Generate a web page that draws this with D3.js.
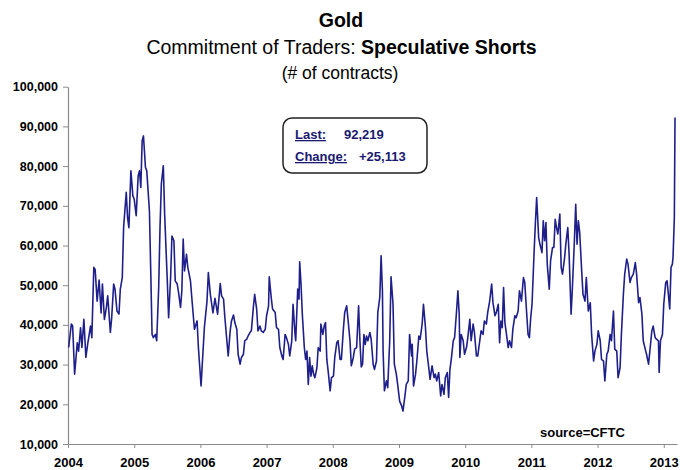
<!DOCTYPE html>
<meta charset="utf-8">
<script src="https://d3js.org/d3.v7.min.js"></script>
<style>
  body { margin: 0; background: #fff; }
  text { font-family: "Liberation Sans", Arial, sans-serif; }
</style>
<div id="my_dataviz"></div>
<script>

// weekly-ish readings, decimal year
const years = [
  2004.01,2004.05,2004.07,2004.10,2004.14,2004.16,2004.19,2004.21,2004.24,2004.27,2004.30,2004.34,2004.36,2004.39,2004.41,2004.44,2004.47,2004.50,2004.52,2004.55,
  2004.58,2004.60,2004.64,2004.66,2004.69,2004.71,2004.74,2004.77,2004.79,2004.82,2004.84,2004.88,2004.90,2004.92,2004.95,2004.98,2005.00,2005.03,2005.06,2005.08,
  2005.10,2005.12,2005.14,2005.17,2005.19,2005.23,2005.25,2005.27,2005.29,2005.32,2005.34,2005.37,2005.39,2005.41,2005.44,2005.46,2005.50,2005.52,2005.55,2005.57,
  2005.60,2005.62,2005.65,2005.67,2005.70,2005.72,2005.74,2005.76,2005.79,2005.81,2005.85,2005.87,2005.91,2005.95,2005.97,2006.01,2006.02,2006.06,2006.10,2006.12,
  2006.15,2006.19,2006.22,2006.26,2006.30,2006.32,2006.35,2006.37,2006.40,2006.42,2006.45,2006.47,2006.50,2006.52,2006.55,2006.57,2006.60,2006.62,2006.65,2006.67,
  2006.70,2006.72,2006.75,2006.77,2006.80,2006.82,2006.85,2006.87,2006.90,2006.92,2006.95,2006.98,2007.00,2007.03,2007.04,2007.07,2007.09,2007.13,2007.15,2007.18,
  2007.20,2007.23,2007.25,2007.28,2007.30,2007.33,2007.35,2007.38,2007.40,2007.43,2007.44,2007.47,2007.49,2007.50,2007.52,2007.54,2007.57,2007.59,2007.61,2007.63,
  2007.65,2007.67,2007.69,2007.71,2007.73,2007.76,2007.78,2007.81,2007.82,2007.85,2007.87,2007.89,2007.91,2007.93,2007.96,2007.98,2008.01,2008.03,2008.06,2008.08,
  2008.11,2008.13,2008.16,2008.18,2008.21,2008.23,2008.26,2008.28,2008.31,2008.33,2008.36,2008.39,2008.41,2008.43,2008.45,2008.47,2008.49,2008.51,2008.53,2008.56,
  2008.58,2008.61,2008.63,2008.66,2008.68,2008.71,2008.73,2008.75,2008.76,2008.78,2008.81,2008.83,2008.86,2008.88,2008.91,2008.93,2008.96,2008.98,2009.01,2009.04,
  2009.06,2009.09,2009.11,2009.14,2009.16,2009.19,2009.20,2009.22,2009.25,2009.27,2009.30,2009.32,2009.35,2009.37,2009.40,2009.42,2009.45,2009.47,2009.50,2009.53,
  2009.55,2009.57,2009.60,2009.63,2009.65,2009.68,2009.70,2009.73,2009.75,2009.77,2009.79,2009.82,2009.84,2009.87,2009.89,2009.91,2009.92,2009.94,2009.97,2009.99,
  2010.02,2010.04,2010.07,2010.09,2010.12,2010.14,2010.17,2010.19,2010.22,2010.24,2010.27,2010.29,2010.32,2010.34,2010.37,2010.40,2010.42,2010.45,2010.47,2010.50,
  2010.52,2010.54,2010.56,2010.58,2010.60,2010.62,2010.65,2010.67,2010.70,2010.72,2010.75,2010.77,2010.80,2010.82,2010.85,2010.88,2010.90,2010.93,2010.95,2010.97,
  2010.99,2011.01,2011.04,2011.06,2011.08,2011.11,2011.13,2011.16,2011.18,2011.20,2011.22,2011.24,2011.27,2011.29,2011.32,2011.34,2011.36,2011.38,2011.40,2011.43,
  2011.45,2011.47,2011.50,2011.52,2011.55,2011.57,2011.60,2011.62,2011.65,2011.67,2011.69,2011.71,2011.73,2011.76,2011.78,2011.81,2011.83,2011.86,2011.89,2011.91,
  2011.94,2011.96,2011.99,2012.01,2012.04,2012.06,2012.09,2012.11,2012.14,2012.16,2012.19,2012.21,2012.24,2012.26,2012.29,2012.31,2012.34,2012.36,2012.39,2012.41,
  2012.44,2012.46,2012.49,2012.51,2012.54,2012.57,2012.59,2012.62,2012.64,2012.67,2012.69,2012.72,2012.74,2012.77,2012.79,2012.82,2012.84,2012.87,2012.89,2012.92,
  2012.93,2012.95,2012.98,2013.00,2013.03,2013.05,2013.07,2013.09,2013.11,2013.13,2013.14,2013.16,2013.17
];

// speculative short positions (# of contracts)
const shorts = [
  34300,40200,39800,27600,35500,33400,39300,34300,41400,31800,35500,39700,36800,54500,54000,46000,51300,43000,50300,41400,
  44400,47300,38100,41800,50300,49000,43500,42700,49000,51900,64500,73400,67000,64500,78800,72500,71700,67500,77600,78800,
  74600,86400,87600,79700,78800,68700,53600,37600,36800,37600,36000,49400,64500,75500,80100,67900,51100,41800,51900,62400,
  61200,51100,50300,48200,44400,48600,61600,53600,57800,54500,51100,46900,38900,41000,34300,24600,27600,39300,46000,53200,
  47700,43000,46700,42700,50400,47300,46500,41800,36000,32200,38500,41000,42500,40600,38900,32600,30100,31800,32600,36000,
  36400,37200,38100,38500,44400,47700,44000,38500,39700,38500,38100,38900,42300,44800,52100,46900,44000,43100,39300,38900,
  34300,32200,31300,37600,36800,35100,32200,36000,45200,37600,36000,49000,46500,55900,50300,42700,34300,31300,33400,25000,
  31800,27100,29700,27600,26700,29200,34300,33400,40200,37600,39700,40600,31300,28400,23400,26700,27100,31800,35500,36000,
  31300,31300,38900,43100,44800,41400,36000,29700,31800,33900,34300,44800,36000,29400,30100,37600,35100,37200,36000,38100,
  36400,30100,28800,30900,43100,46900,57400,48600,33400,23400,25900,24200,36000,52100,45200,30100,27600,25000,20800,19600,
  18300,22100,25000,25900,37600,32200,35100,24600,27600,30900,37200,36400,40200,45200,39300,33400,29200,26300,29700,26700,
  27600,25900,28000,22100,25000,22500,26700,28000,21700,28800,31300,36000,36800,43500,48600,42700,31800,37600,36000,32600,
  34300,36800,41400,36000,40200,38100,32200,32200,36000,38500,37600,41000,40200,43100,46000,50300,45600,42300,43100,45200,
  35500,41000,39300,49400,40600,38100,34300,36000,34300,38900,42300,41800,43500,48600,46000,51900,50700,42700,37600,36800,
  41800,45200,57800,65400,72100,62000,60300,58200,66200,61200,65800,55300,49000,56100,59500,59500,66600,64500,62900,67900,
  54500,52800,56600,60300,64500,57800,42700,49400,61200,70400,60300,66200,63300,53600,47700,46000,51900,43500,45600,37600,
  30900,33400,35100,38500,36000,31300,30900,25900,32600,33400,37600,36000,43500,33900,33400,26700,29200,37600,47700,52800,
  56600,55300,50700,51900,52800,55700,52800,45600,46900,42700,36000,33900,32600,30100,33400,38500,39700,36800,36400,36000,
  28000,36000,37600,45200,50700,51100,47700,44000,54500,55300,57000,67106,92219
];

const yTicks = [10000,20000,30000,40000,50000,60000,70000,80000,90000,100000];
const xTicks = [2004,2005,2006,2007,2008,2009,2010,2011,2012,2013];

const width = 682, height = 470;

const svg = d3.select("#my_dataviz")
  .append("svg")
  .attr("width", width)
  .attr("height", height);

const x = d3.scaleLinear().domain([2004, 2013.2]).range([68, 677]);
const y = d3.scaleLinear().domain([10000, 100000]).range([444, 86.7]);

// titles
svg.append("text")
  .attr("x", 341).attr("y", 27)
  .attr("text-anchor", "middle")
  .style("font-size", "19.5px").style("font-weight", "bold")
  .text("Gold");

const sub = svg.append("text")
  .attr("x", 341.5).attr("y", 54)
  .attr("text-anchor", "middle")
  .style("font-size", "19.5px");
sub.append("tspan").text("Commitment of Traders: ");
sub.append("tspan").style("font-weight", "bold").text("Speculative Shorts");

svg.append("text")
  .attr("x", 340).attr("y", 79)
  .attr("text-anchor", "middle")
  .style("font-size", "17.5px")
  .text("(# of contracts)");

// axes
const yAxis = svg.append("g")
  .attr("transform", "translate(68,0)")
  .call(d3.axisLeft(y).tickValues(yTicks).tickFormat(d3.format(",")).tickSize(5).tickSizeOuter(0).tickPadding(5));

const xAxis = svg.append("g")
  .attr("transform", "translate(0,444)")
  .call(d3.axisBottom(x).tickValues(xTicks).tickFormat(d => d).tickSize(4).tickSizeOuter(0).tickPadding(10));

[yAxis, xAxis].forEach(g => {
  g.select(".domain").attr("stroke", "#8a8a8a").attr("stroke-width", 1.2);
  g.selectAll(".tick line").attr("stroke", "#8a8a8a");
  g.selectAll(".tick text")
    .attr("fill", "#000")
    .style("font-family", "'Liberation Sans', Arial, sans-serif")
    .style("font-size", "13px")
    .style("font-weight", "bold");
});
yAxis.selectAll(".tick text").style("font-size", "12.5px");

// the line
const data = years.map((t, i) => ({t: t, v: shorts[i]}));
svg.append("path")
  .datum(data)
  .attr("fill", "none")
  .attr("stroke", "#1f1f8c")
  .attr("stroke-width", 1.6)
  .attr("stroke-linejoin", "round")
  .attr("d", d3.line().x(d => x(d.t)).y(d => y(d.v)));

// last / change box
const last = shorts[shorts.length - 1];
const change = last - shorts[shorts.length - 2];
const box = svg.append("g");
box.append("rect")
  .attr("x", 283).attr("y", 118)
  .attr("width", 144).attr("height", 55)
  .attr("rx", 9)
  .attr("fill", "#fff")
  .attr("stroke", "#222")
  .attr("stroke-width", 1.5);

const boxText = [
  {label: "Last:", value: d3.format(",")(last), ly: 139, vx: 344},
  {label: "Change:", value: d3.format("+,")(change), ly: 161, vx: 359}
];
boxText.forEach(d => {
  box.append("text")
    .attr("x", 295).attr("y", d.ly)
    .attr("fill", "#1a1a70")
    .style("font-size", "13px").style("font-weight", "bold")
    .style("text-decoration", "underline")
    .text(d.label);
  box.append("text")
    .attr("x", d.vx).attr("y", d.ly)
    .attr("fill", "#1a1a70")
    .style("font-size", "13px").style("font-weight", "bold")
    .text(d.value);
});

svg.append("text")
  .attr("x", 540).attr("y", 437)
  .style("font-size", "13px").style("font-weight", "bold")
  .text("source=CFTC");

</script>
